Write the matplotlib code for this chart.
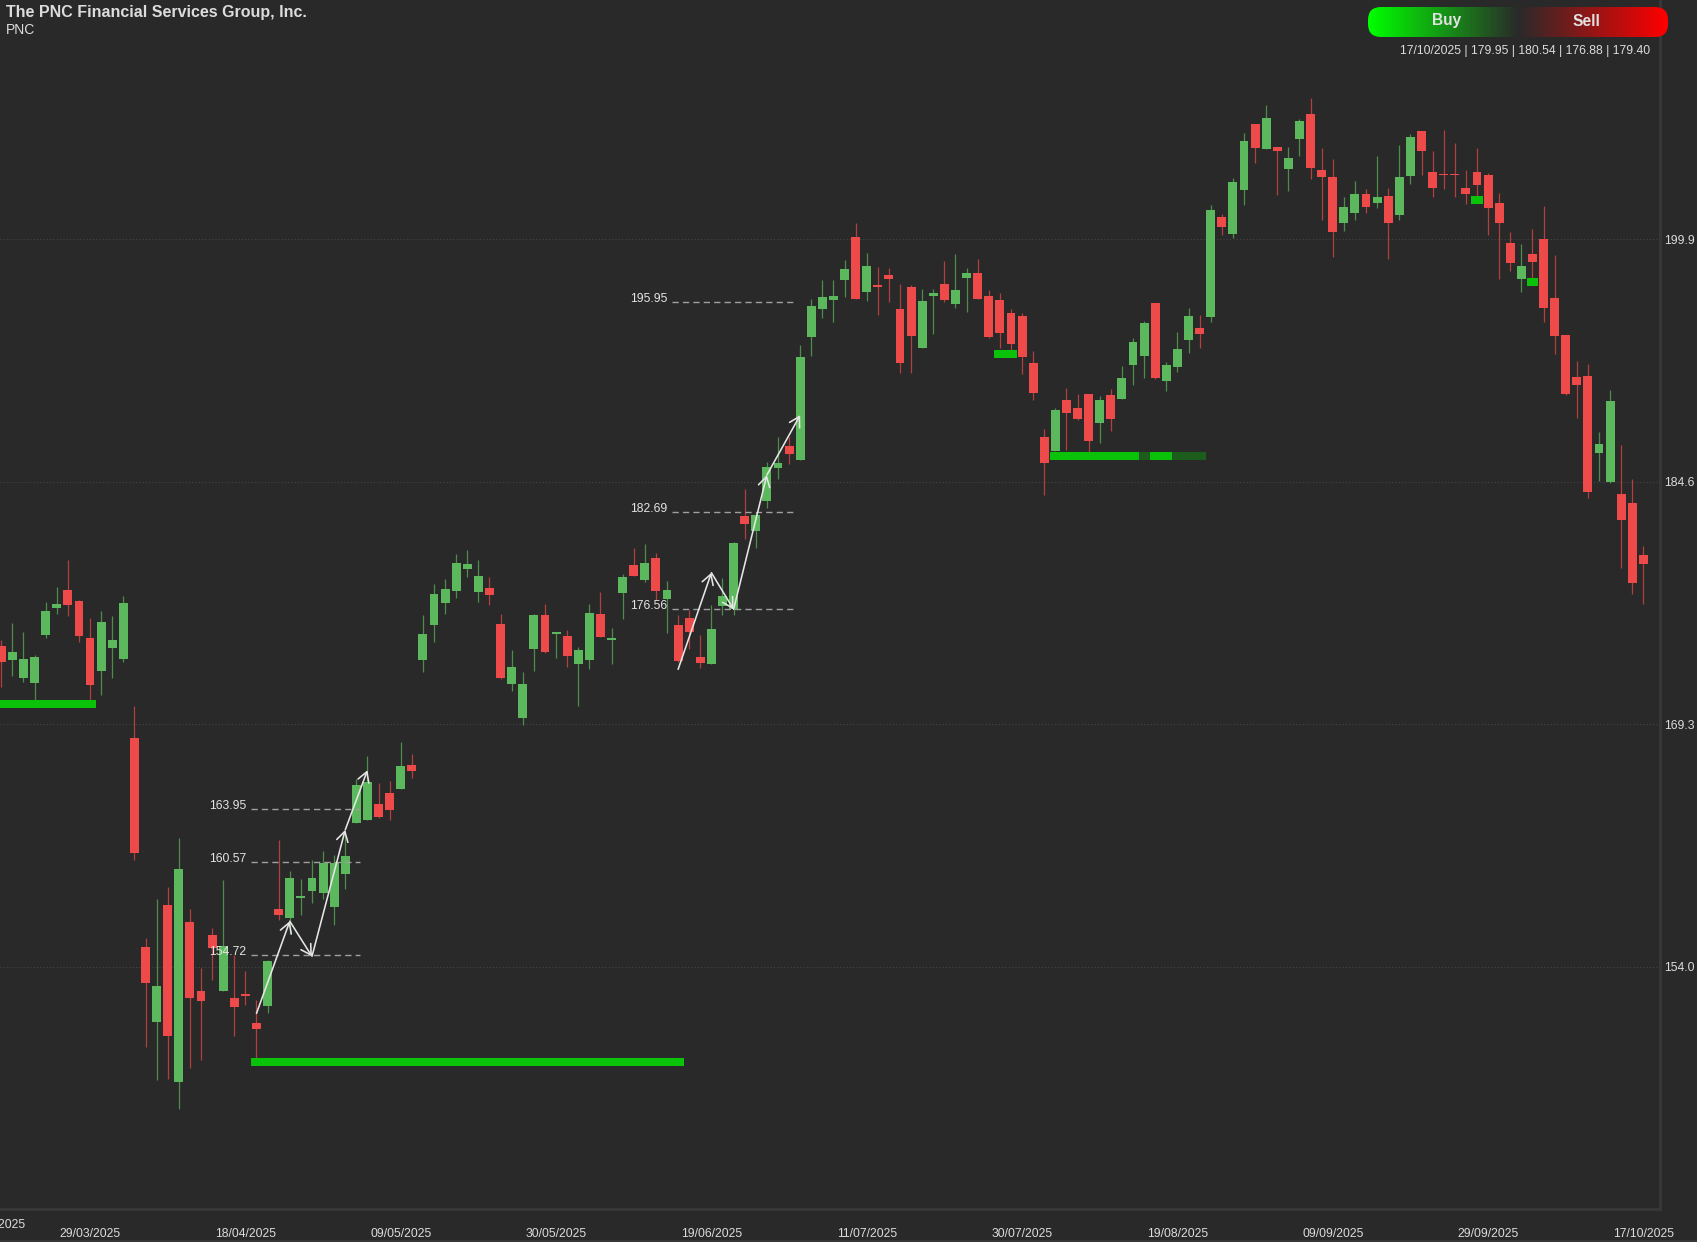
import numpy as np
import matplotlib
matplotlib.use("Agg")
import matplotlib.pyplot as plt
from matplotlib.patches import FancyBboxPatch
from matplotlib.colors import LinearSegmentedColormap

plt.rcParams['font.family'] = ['Liberation Sans', 'DejaVu Sans']

opens = [174.25,173.32,172.22,171.93,174.95,176.62,177.78,177.08,174.77,172.63,174.10,173.40,168.45,155.21,150.52,157.86,146.73,156.78,152.43,155.96,152.43,151.99,152.25,150.42,151.50,157.63,157.04,158.35,158.76,158.61,157.78,159.85,163.07,163.27,164.25,164.95,165.23,166.75,
173.33,175.58,176.97,177.70,179.07,177.62,177.89,175.62,171.85,169.66,174.06,176.17,175.01,174.88,173.07,173.33,176.23,174.63,177.58,179.34,178.42,179.81,177.20,175.56,176.02,173.52,173.07,176.78,176.55,182.44,181.47,183.41,185.47,186.84,185.99,193.72,195.51,196.10,
197.34,200.05,196.58,197.02,197.63,195.49,196.92,193.03,196.31,197.09,195.85,197.47,197.80,196.35,196.06,195.26,195.07,192.10,187.45,186.56,189.74,189.26,190.12,188.31,190.10,189.83,191.97,192.52,195.89,190.96,191.85,193.53,194.31,195.00,
201.34,200.23,203.04,207.21,205.60,205.75,204.38,206.25,207.82,204.27,203.82,200.97,201.60,202.77,202.23,202.64,201.45,203.90,206.75,204.17,204.06,204.04,203.14,204.17,203.97,202.19,199.67,197.43,198.99,199.95,196.19,193.88,191.19,191.30,186.40,184.60,183.84,183.27,179.95]
highs = [174.64,175.67,175.13,173.66,177.01,177.96,179.64,177.14,175.98,176.44,176.11,177.37,170.44,155.82,158.25,159.02,162.14,157.66,153.90,156.45,159.49,154.72,153.71,151.89,154.38,161.99,160.00,159.54,160.70,161.29,161.01,162.32,165.82,167.27,165.59,165.72,168.17,167.42,
176.19,178.12,178.44,180.04,180.29,179.66,178.57,176.23,173.98,172.59,176.23,176.86,175.14,175.24,174.17,176.86,177.64,175.35,178.78,180.40,180.65,180.08,178.33,176.19,176.50,174.95,176.80,178.54,180.82,184.14,182.61,185.85,187.43,187.45,193.23,196.14,197.34,197.34,
198.60,200.96,199.02,198.14,198.08,197.09,197.04,196.79,196.79,198.56,199.00,198.08,198.69,196.71,196.50,195.49,195.23,192.86,187.95,189.24,190.50,190.14,190.12,190.00,190.46,191.89,193.66,194.73,195.89,192.16,194.06,195.55,195.15,202.07,
201.49,203.77,206.64,207.21,208.38,205.77,205.75,207.51,208.84,205.69,204.99,202.58,203.58,203.06,205.17,203.14,205.86,206.56,206.77,205.47,206.82,205.99,204.27,205.69,204.10,202.84,200.40,199.62,200.54,202.01,198.93,193.90,192.25,192.04,187.73,190.40,186.90,184.75,180.54]
lows = [171.65,172.34,171.98,170.82,174.71,176.26,176.16,174.48,170.82,171.11,172.22,173.25,160.75,148.92,146.81,146.91,145.03,147.58,148.12,153.17,152.43,149.64,151.58,148.23,151.04,156.91,156.08,157.24,158.02,158.27,156.63,158.87,163.04,163.27,163.40,163.27,165.23,165.93,
172.61,174.50,176.27,177.28,178.61,177.03,176.82,172.17,171.41,169.26,172.67,173.81,173.49,172.91,170.44,172.80,174.78,173.12,175.96,178.63,178.29,177.11,175.07,173.24,174.06,172.84,173.07,176.21,176.21,180.99,180.44,182.94,184.80,185.74,185.97,192.56,194.96,194.71,
196.25,196.14,196.01,195.13,195.95,191.47,191.47,193.03,193.93,195.97,195.59,195.34,196.14,193.68,193.03,192.92,191.41,189.78,183.79,186.56,186.61,188.50,186.48,187.07,187.83,189.81,190.71,191.17,191.11,190.35,191.55,192.73,193.05,194.71,
200.17,199.99,202.10,204.73,205.60,202.71,202.95,205.19,203.75,201.12,198.82,200.45,201.12,201.58,201.88,198.67,201.12,203.43,203.99,202.56,203.08,202.58,202.14,202.58,200.21,197.40,197.90,196.60,197.14,194.67,192.64,190.08,188.62,183.58,184.67,184.51,179.17,177.51,176.88]
closes = [173.25,173.84,173.40,173.53,176.44,176.88,176.83,174.89,171.78,175.77,174.61,176.98,161.18,152.99,152.76,149.64,160.18,152.04,151.81,155.18,155.29,151.42,152.12,150.03,154.33,157.27,159.59,158.43,159.56,160.54,160.54,160.95,165.46,165.64,163.43,163.89,166.68,166.34,
174.97,177.49,177.81,179.49,179.41,178.63,177.43,172.23,172.90,171.81,176.21,173.87,175.09,173.62,173.96,176.29,174.80,174.74,178.61,178.67,179.45,177.70,177.75,173.28,175.09,173.14,175.28,177.39,180.71,181.93,182.50,185.51,185.78,186.35,192.46,195.72,196.29,196.31,
198.05,196.16,198.24,196.90,197.42,192.08,193.80,196.01,196.54,196.06,196.71,197.78,196.16,193.76,193.97,193.28,192.50,190.21,185.81,189.13,188.94,188.56,187.20,189.74,188.54,191.15,193.43,194.60,191.17,191.99,192.96,195.05,193.93,201.76,
200.71,203.51,206.14,205.69,207.56,205.51,205.06,207.40,204.40,203.84,200.40,201.93,202.80,201.97,202.56,200.97,203.82,206.34,205.51,203.17,203.99,203.97,202.77,203.32,201.86,200.93,198.43,198.21,198.45,195.60,193.80,190.14,190.69,183.93,186.97,189.73,182.21,178.19,179.40]

y_ticks = [154.0, 169.3, 184.6, 199.9]
date_idx = [8, 22, 36, 50, 64, 78, 92, 106, 120, 134, 148]
date_labels = ['29/03/2025', '18/04/2025', '09/05/2025', '30/05/2025', '19/06/2025', '11/07/2025',
               '30/07/2025', '19/08/2025', '09/09/2025', '29/09/2025', '17/10/2025']
first_date_label = '07/03/2025'

zone_start = [-1.5, 22.5, 89.5, 94.5, 102.5, 103.5, 105.5, 132.5, 137.5]
zone_end = [8.5, 61.5, 91.5, 102.5, 103.5, 105.5, 108.6, 133.5, 138.5]
zone_low = [170.31, 147.71, 192.42, 185.98, 185.98, 185.98, 185.98, 202.14, 196.97]
zone_high = [170.82, 148.23, 192.92, 186.48, 186.48, 186.48, 186.48, 202.64, 197.47]
zone_bright = [1, 1, 1, 1, 0, 1, 0, 1, 1]

level_a = [154.72, 160.57, 163.95]
level_b = [176.56, 182.69, 195.95]

zig_a_x = [23, 26, 28, 31, 33]
zig_a_y = [151.04, 156.86, 154.64, 162.63, 166.39]
zig_b_x = [61, 64, 66, 69, 72]
zig_b_y = [172.76, 178.86, 176.55, 185.03, 188.81]

BG = '#292929'
GREEN = '#5cb85c'
RED = '#ef4a4a'
TXT = '#dcdcdc'

W, H = 1697, 1242
fig = plt.figure(figsize=(W/100, H/100), dpi=100, facecolor=BG)
ax = fig.add_axes([0, 33/H, 1659.5/W, 1209/H], facecolor=BG)
ax.set_xlim(-0.117, 149.45)
ax.set_ylim(138.69, 215.02)

for s in ['top', 'left']:
    ax.spines[s].set_visible(False)
for s in ['right', 'bottom']:
    ax.spines[s].set_color('#383838')
    ax.spines[s].set_linewidth(2)

ax.yaxis.tick_right()
ax.set_yticks(y_ticks)
ax.set_yticklabels([f'{v:.1f}' for v in y_ticks], fontsize=8.7, color=TXT, va='bottom')
ax.set_xticks(date_idx)
ax.set_xticklabels(date_labels, fontsize=8.7, color=TXT)
ax.tick_params(axis='y', length=0, pad=3.5)
ax.tick_params(axis='x', length=0, pad=14)
for lab in ax.get_yticklabels():
    lab.set_verticalalignment('center_baseline')
ax.grid(axis='y', color='#454545', linestyle=(0, (1.2, 2.2)), linewidth=0.7)
ax.set_axisbelow(True)

o = np.array(opens); h = np.array(highs); l = np.array(lows); c = np.array(closes)
idx = np.arange(len(o))
col = np.where(c >= o, GREEN, RED)
ax.vlines(idx, l, h, colors=col, linewidth=0.9, alpha=0.7, zorder=2)
ax.bar(idx, np.maximum(np.abs(c - o), 0.06), bottom=np.minimum(o, c), width=0.8, color=col, linewidth=0, zorder=3)

for a, b, lo, hi, br in zip(zone_start, zone_end, zone_low, zone_high, zone_bright):
    ax.fill_between([a, b], lo, hi, color='#0ac20a' if br else '#1c5c1c', linewidth=0, zorder=4)

def levels(vals, x0, x1):
    for v in vals:
        ax.plot([x0, x1], [v, v], color='#a0a0a0', lw=1.0, ls=(0, (4.5, 3)), zorder=5)
        ax.annotate(f'{v:.2f}', (x0, v), xytext=(-3.4, 2.2), textcoords='offset points',
                    ha='right', va='center', fontsize=8.7, color='#e4e4e4', zorder=6)

levels(level_a, 22.5, 32.3)
levels(level_b, 60.45, 71.45)

def zig(xs, ys):
    for i in range(len(xs) - 1):
        ax.annotate('', xy=(xs[i+1], ys[i+1]), xytext=(xs[i], ys[i]),
                    arrowprops=dict(arrowstyle='->,head_length=0.55,head_width=0.32', color='#e6e6e6', lw=1.15,
                                    shrinkA=0, shrinkB=0, mutation_scale=13), zorder=7)

zig(zig_a_x, zig_a_y)
zig(zig_b_x, zig_b_y)

ov = fig.add_axes([0, 0, 1, 1], facecolor='none')
ov.set_xlim(0, W); ov.set_ylim(H, 0); ov.axis('off')
ov.axhline(1241, color='#3a3a3a', lw=1.2)
ov.text(6, 12, 'The PNC Financial Services Group, Inc.', fontsize=11.5, fontweight='bold', color=TXT, va='center')
ov.text(6, 30.5, 'PNC', fontsize=10, color=TXT, va='center')
ov.text(-5, 1225, first_date_label, fontsize=8.7, color=TXT, ha='center', va='center')

cmap = LinearSegmentedColormap.from_list('bs', ['#00ff00', '#2a2a2a', '#ff0000'])
grad = np.linspace(0, 1, 300).reshape(1, -1)
im = ov.imshow(grad, extent=(1368, 1668, 37, 7), cmap=cmap, aspect='auto', zorder=3)
pill = FancyBboxPatch((1368+13, 7+13), 300-26, 30-26, boxstyle='round,pad=13,rounding_size=13',
                      transform=ov.transData, facecolor='none', edgecolor='none')
ov.add_patch(pill)
im.set_clip_path(pill)
ov.set_xlim(0, W); ov.set_ylim(H, 0)
ov.text(1446.5, 21, 'Buy', fontsize=11.2, fontweight='bold', color='#e2e2e2', ha='center', va='center', zorder=4)
ov.text(1586, 21, 'Sell', fontsize=11.2, fontweight='bold', color='#e2e2e2', ha='center', va='center', zorder=4)
ov.text(1650, 51, f'{date_labels[-1]} | {opens[-1]:.2f} | {highs[-1]:.2f} | {lows[-1]:.2f} | {closes[-1]:.2f}',
        fontsize=8.7, color=TXT, ha='right', va='center')

fig.savefig('out.png', dpi=100, facecolor=BG)
